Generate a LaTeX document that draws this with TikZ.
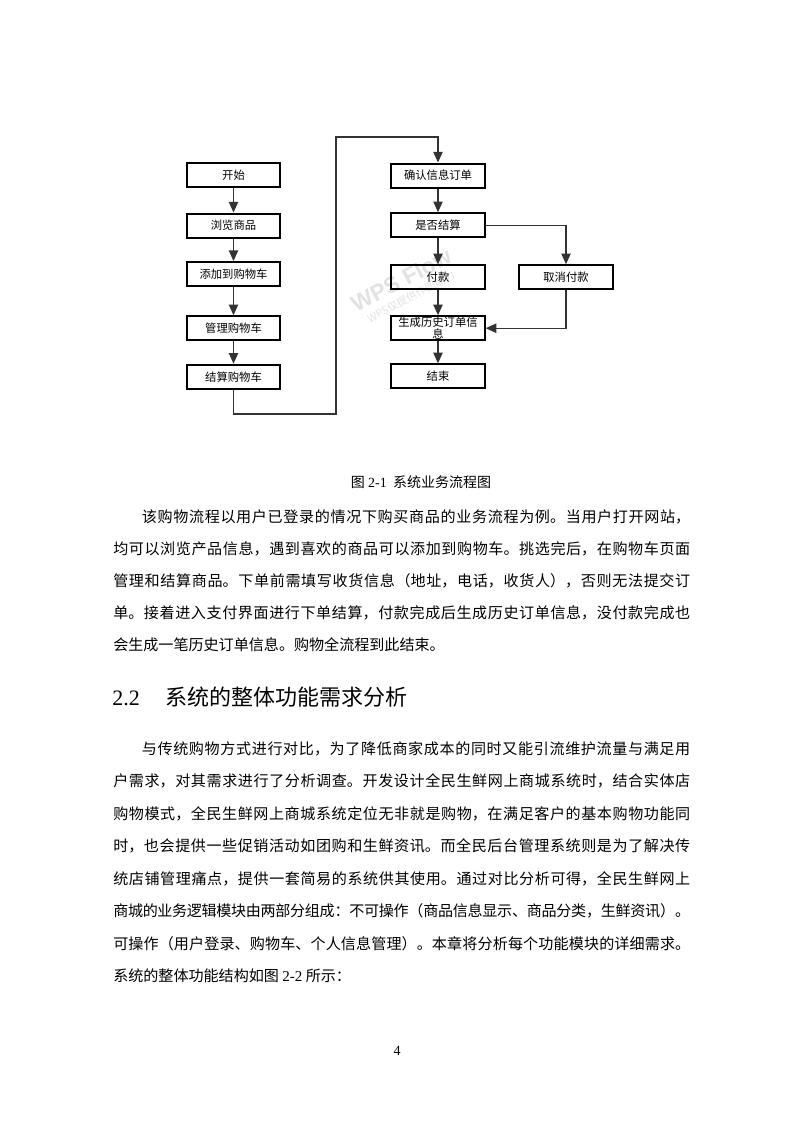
\documentclass[tikz,border=0pt]{standalone}
\usepackage{fontspec}
\setmainfont{Noto Sans CJK SC}
\newfontfamily\latfont{Liberation Serif}
\newfontfamily\markfont{Liberation Sans}
\XeTeXlinebreaklocale "zh"
\XeTeXlinebreakskip=0pt plus 3pt minus 0.6pt
\usetikzlibrary{arrows.meta,positioning}
\definecolor{cLine}{HTML}{333333}
\definecolor{cMark}{HTML}{E2E2E2}
\tikzset{
  stepbox/.style={draw=black,line width=1.5pt,minimum width=70pt,
              minimum height=18pt,inner sep=0pt,align=center,
              font=\fontsize{8.5}{9}\selectfont},
  flow/.style={-{Triangle[length=8pt,width=7pt]},line width=1pt,cLine},
  para/.style={text width=432.75pt,align=justify,inner sep=0pt,
              anchor=base west},
  wmark/.style={rotate=28,text=cMark,inner sep=0pt},
}

\begin{document}
\begin{tikzpicture}[x=0.75pt,y=-0.75pt]
  \useasboundingbox (0,0) rectangle (793,1122);
  % watermark
  \node[wmark,font=\markfont\bfseries\fontsize{17}{17}\selectfont] (wmbig) at (401,280) {WPS Flow};
  \node[wmark,font=\fontsize{8}{8}\selectfont] (wmsmall) at (411,297) {WPS仅提供作图能力};
  % left column
  \node[stepbox] (start) at (233.5,175.3) {开始};
  \node[stepbox] (browse) at (233.5,225.5) {浏览商品};
  \node[stepbox] (addcart) at (233.5,274) {添加到购物车};
  \node[stepbox] (managecart) at (233.5,328.2) {管理购物车};
  \node[stepbox] (settlecart) at (233.5,376.7) {结算购物车};
  % right column
  \node[stepbox] (confirm) at (438,175.5) {确认信息订单};
  \node[stepbox] (ifsettle) at (438,225.2) {是否结算};
  \node[stepbox] (pay) at (438,277.2) {付款};
  \node[stepbox] (history) at (438,328.2) {生成历史订单信\\息};
  \node[stepbox] (finish) at (438,376.3) {结束};
  \node[stepbox] (cancel) at (566,277.2) {取消付款};
  \coordinate (lowturn) at (336,414);
  \coordinate (highturn) at (336,137);
  \draw[flow] (start) -- (browse);
  \draw[flow] (browse) -- (addcart);
  \draw[flow] (addcart) -- (managecart);
  \draw[flow] (managecart) -- (settlecart);
  \draw[flow] (settlecart) |- (lowturn) -- (highturn) -| (confirm);
  \draw[flow] (confirm) -- (ifsettle);
  \draw[flow] (ifsettle) -- (pay);
  \draw[flow] (pay) -- (history);
  \draw[flow] (history) -- (finish);
  \draw[flow] (ifsettle) -| (cancel);
  \draw[flow] (cancel) |- (history);
  % caption and text
  \node[anchor=base,inner sep=0pt,font=\fontsize{10.5}{12}\selectfont] (caption) at (421,487)
    {图 {\latfont 2-1}\ \ 系统业务流程图};
  \node[para,font=\fontsize{11.3}{24}\selectfont] (introtext) at (113,522.5) {%
\hspace*{1.9em}该购物流程以用户已登录的情况下购买商品的业务流程为例。当用户打开网站，\linebreak
均可以浏览产品信息，遇到喜欢的商品可以添加到购物车。挑选完后，在购物车页面\linebreak
管理和结算商品。下单前需填写收货信息（地址，电话，收货人），否则无法提交订\linebreak
单。接着进入支付界面进行下单结算，付款完成后生成历史订单信息，没付款完成也\linebreak
会生成一笔历史订单信息。购物全流程到此结束。};
  \node[anchor=base west,inner sep=0pt,font=\fontsize{16.5}{20}\selectfont] (heading) at (112,705)
    {{\latfont 2.2}\hspace{19pt}系统的整体功能需求分析};
  \node[para,font=\fontsize{11.3}{24.4}\selectfont] (reqtext) at (113,754) {%
\hspace*{1.9em}与传统购物方式进行对比，为了降低商家成本的同时又能引流维护流量与满足用\linebreak
户需求，对其需求进行了分析调查。开发设计全民生鲜网上商城系统时，结合实体店\linebreak
购物模式，全民生鲜网上商城系统定位无非就是购物，在满足客户的基本购物功能同\linebreak
时，也会提供一些促销活动如团购和生鲜资讯。而全民后台管理系统则是为了解决传\linebreak
统店铺管理痛点，提供一套简易的系统供其使用。通过对比分析可得，全民生鲜网上\linebreak
商城的业务逻辑模块由两部分组成：不可操作（商品信息显示、商品分类，生鲜资讯）。\linebreak
可操作（用户登录、购物车、个人信息管理）。本章将分析每个功能模块的详细需求。\linebreak
系统的整体功能结构如图 {\latfont 2-2} 所示：};
  \node[anchor=base,inner sep=0pt,font=\latfont\fontsize{10.5}{12}\selectfont] (pagenum) at (397,1055) {4};
\end{tikzpicture}
\end{document}
